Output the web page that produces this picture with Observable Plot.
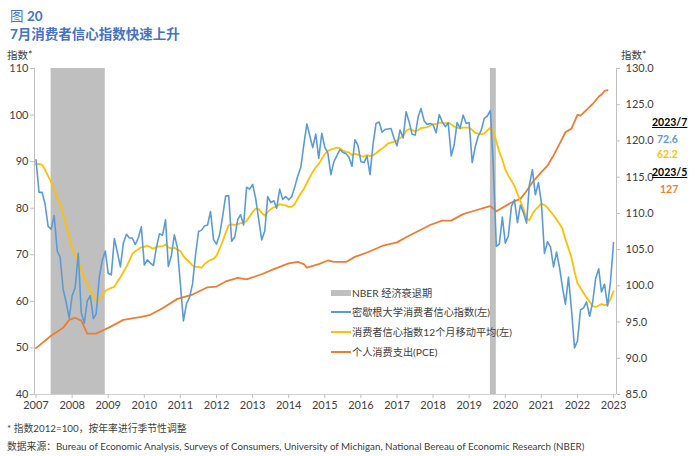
<!DOCTYPE html>
<html>
<head>
<meta charset="utf-8">
<script src="https://cdn.jsdelivr.net/npm/d3@7"></script>
<script src="https://cdn.jsdelivr.net/npm/@observablehq/plot@0.6"></script>
<style>
  body { margin: 0; background: #fff; }
  #wrap { position: relative; width: 700px; height: 456px; font-family: Lato, "Noto Sans CJK SC", sans-serif; color: #404040; overflow: hidden; }
  .abs { position: absolute; white-space: nowrap; }
  .leg { position: absolute; font-size: 10.2px; line-height: 12px; white-space: nowrap; color: #404040; }
  .sw { position: absolute; width: 20px; }
  .ann { position: absolute; font-size: 10.5px; font-weight: bold; white-space: nowrap; line-height: 12px; }
  #chart { position: absolute; left: 0; top: 0; }
</style>
</head>
<body>
<div id="wrap">
  <div id="chart"></div>
  <div class="abs" style="left:10px;top:5px;font-size:13.5px;color:#4472c4;"><span>图</span> <b>20</b></div>
  <div class="abs" style="left:10px;top:23px;font-size:13.5px;color:#4472c4;font-weight:bold;">7月消费者信心指数快速上升</div>
  <div class="abs" style="left:7px;top:47px;font-size:10.5px;">指数*</div>
  <div class="abs" style="left:621px;top:47px;font-size:10.5px;">指数*</div>

  <div class="ann" style="left:652px;top:116px;color:#000;text-decoration:underline;">2023/7</div>
  <div class="ann" style="left:657px;top:133px;color:#5b9bd5;" id="a1"></div>
  <div class="ann" style="left:657px;top:148px;color:#ffc000;" id="a2"></div>
  <div class="ann" style="left:652px;top:166px;color:#000;text-decoration:underline;">2023/5</div>
  <div class="ann" style="left:660px;top:183px;color:#ed7d31;" id="a3"></div>

  <div class="sw" style="left:331px;top:290px;height:6px;background:#bfbfbf;"></div>
  <div class="leg" style="left:352px;top:287px;">NBER 经济衰退期</div>
  <div class="sw" style="left:331px;top:311px;height:2px;background:#5b9bd5;"></div>
  <div class="leg" style="left:352px;top:306px;">密歇根大学消费者信心指数(左)</div>
  <div class="sw" style="left:331px;top:331px;height:2px;background:#ffc000;"></div>
  <div class="leg" style="left:352px;top:326px;">消费者信心指数12个月移动平均(左)</div>
  <div class="sw" style="left:331px;top:351px;height:2px;background:#ed7d31;"></div>
  <div class="leg" style="left:352px;top:346px;">个人消费支出(PCE)</div>

  <div class="abs" style="left:7px;top:421px;font-size:9.8px;">* 指数2012=100，按年率进行季节性调整</div>
  <div class="abs" style="left:7px;top:439px;font-size:9.8px;">数据来源：Bureau of Economic Analysis, Surveys of Consumers, University of Michigan, National Bereau of Economic Research (NBER)</div>
</div>
<script>
// Monthly data starting July 2007
const startYear = 2007, startMonth = 7;

// University of Michigan consumer sentiment (left axis)
const sentiment = [
  90.4, 83.4, 83.4, 80.9, 76.1, 75.5,
  78.4, 70.8, 69.5, 62.6, 59.8, 56.4, 61.2, 63.0, 70.3, 57.6, 55.3, 60.1,
  61.2, 56.3, 57.3, 65.1, 68.7, 70.8, 66.0, 65.7, 73.5, 70.6, 67.4, 72.5,
  74.4, 73.6, 73.6, 72.2, 73.6, 76.0, 67.8, 68.9, 68.2, 67.7, 71.6, 74.5,
  74.2, 77.5, 67.5, 69.8, 74.3, 71.5, 63.7, 55.8, 59.5, 60.8, 63.7, 69.9,
  75.0, 75.3, 76.2, 76.4, 79.3, 73.2, 72.3, 74.3, 78.3, 82.6, 82.7, 72.9,
  73.8, 77.6, 78.6, 76.4, 84.5, 84.1, 85.1, 82.1, 77.5, 73.2, 75.1, 82.5,
  81.2, 81.6, 80.0, 84.1, 81.9, 82.5, 81.8, 82.5, 84.6, 86.9, 88.8, 93.6,
  98.1, 95.4, 93.0, 95.9, 90.7, 96.1, 93.1, 91.9, 87.2, 90.0, 91.3, 92.6,
  92.0, 91.7, 91.0, 89.0, 94.7, 93.5, 90.0, 89.8, 91.2, 87.2, 93.8, 98.2,
  98.5, 96.3, 96.9, 97.0, 97.1, 95.0, 93.4, 96.8, 95.1, 100.7, 98.5, 95.9,
  95.7, 99.7, 101.4, 98.8, 98.0, 98.2, 97.9, 96.2, 100.1, 98.6, 97.5, 98.3,
  91.2, 93.8, 98.4, 97.2, 100.0, 98.2, 98.4, 89.8, 93.2, 95.5, 96.8, 99.3,
  99.8, 101.0, 89.1, 71.8, 72.3, 78.1, 72.5, 74.1, 80.4, 81.8, 76.9, 80.7,
  79.0, 76.8, 84.9, 88.3, 82.9, 85.5, 81.2, 70.3, 72.8, 71.7, 67.4, 70.6,
  67.2, 62.8, 59.4, 65.2, 58.4, 50.0, 51.5, 58.2, 58.6, 59.9, 56.8, 59.7,
  64.9, 67.0, 62.0, 63.7, 59.0, 64.4, 72.6
];

// 12-month moving average of sentiment (left axis)
const movingAvg = [
  89.4, 89.5, 89.3, 88.3, 86.9, 85.6,
  84.0, 82.3, 80.8, 78.7, 76.3, 73.9, 71.5, 69.8, 68.7, 66.8, 65.0, 63.8,
  62.3, 61.1, 60.1, 60.3, 61.0, 62.2, 62.6, 62.9, 63.1, 64.2, 65.2, 66.3,
  67.4, 68.8, 70.2, 70.8, 71.2, 71.6, 71.7, 72.0, 71.6, 71.3, 71.7, 71.8,
  71.8, 72.2, 71.6, 71.4, 71.5, 71.1, 70.8, 69.7, 69.0, 68.4, 67.7, 67.4,
  67.4, 67.2, 68.0, 68.5, 68.9, 69.1, 69.8, 71.3, 72.9, 74.7, 76.3, 76.5,
  76.4, 76.6, 76.8, 76.8, 77.3, 78.2, 79.2, 79.9, 79.8, 79.0, 78.4, 79.2,
  79.8, 80.2, 80.3, 80.9, 80.7, 80.6, 80.3, 80.3, 80.9, 82.1, 83.2, 84.1,
  85.5, 86.7, 87.8, 88.8, 89.5, 90.6, 91.6, 92.3, 92.6, 92.8, 93.0, 92.9,
  92.4, 92.1, 92.0, 91.4, 91.7, 91.5, 91.2, 91.1, 91.4, 91.2, 91.4, 91.8,
  92.4, 92.8, 93.3, 93.9, 94.1, 94.3, 94.5, 95.1, 95.4, 96.6, 97.0, 96.8,
  96.5, 96.8, 97.2, 97.3, 97.4, 97.7, 98.1, 98.0, 98.4, 98.3, 98.2, 98.4,
  98.0, 97.5, 97.3, 97.1, 97.3, 97.3, 97.3, 96.8, 96.2, 96.0, 95.9, 96.0,
  96.7, 97.3, 96.5, 94.4, 92.1, 90.4, 88.3, 87.0, 85.9, 84.8, 83.1, 81.5,
  79.8, 77.8, 77.4, 78.8, 79.7, 80.3, 81.0, 80.7, 80.1, 79.3, 78.5, 77.6,
  76.6, 75.5, 73.3, 71.4, 69.4, 66.4, 63.9, 62.9, 61.8, 60.8, 59.9, 59.0,
  58.8, 59.1, 59.4, 59.2, 59.3, 60.5, 62.2
];

// PCE index (right axis)
const pceMonths = [
  "2007-07","2007-12","2008-04","2008-06","2008-08","2008-10","2008-12","2009-03","2009-05","2009-08",
  "2009-12","2010-06","2010-09","2011-01","2011-06","2011-11","2012-04","2012-07","2012-10","2013-02",
  "2013-05","2013-10","2014-02","2014-07","2014-10","2014-12","2015-01","2015-05","2015-08","2015-10",
  "2016-02","2016-05","2016-09","2017-02","2017-07","2017-10","2018-06","2018-10","2019-01","2019-05",
  "2019-09","2020-01","2020-02","2020-04","2020-09","2020-12","2021-02","2021-04","2021-07","2021-09",
  "2021-11","2022-01","2022-03","2022-05","2022-07","2022-08","2022-11","2022-12","2023-02","2023-03",
  "2023-04","2023-05"
];
const pceValues = [
  91.4, 93.1, 94.2, 95.3, 95.6, 95.2, 93.4, 93.4, 93.8, 94.4,
  95.3, 95.7, 96.0, 96.9, 98.2, 98.8, 99.8, 99.9, 100.6, 101.1,
  100.9, 101.6, 102.3, 103.1, 103.3, 103.0, 102.5, 103.0, 103.5, 103.3,
  103.3, 104.0, 104.6, 105.5, 106.0, 106.7, 108.4, 109.0, 109.0, 109.9,
  110.4, 110.9, 111.0, 110.3, 111.5, 112.0, 113.1, 114.3, 115.7, 116.6,
  118.0, 119.6, 121.2, 121.7, 123.6, 123.5, 124.7, 125.1, 126.1, 126.4,
  126.9, 127.0
];

// NBER recessions
const recStart = ["2007-12", "2020-02"];
const recEnd = ["2009-06", "2020-04"];

const leftTicks = [40, 50, 60, 70, 80, 90, 100, 110];
const rightTicks = [85, 90, 95, 100, 105, 110, 115, 120, 125, 130];
const yearLabels = [2007, 2008, 2009, 2010, 2011, 2012, 2013, 2014, 2015, 2016, 2017, 2018, 2019, 2020, 2021, 2022, 2023];

const latest = { sentiment: "72.6", avg: "62.2", pce: "127" };

// helpers
const md = i => new Date(Date.UTC(startYear, startMonth - 1 + i, 1));
const pd = s => { const [y, m] = s.split("-").map(Number); return new Date(Date.UTC(y, m - 1, 1)); };
// right-axis value -> left-axis scale
const toL = r => 40 + (r - 85) * 70 / 45;
const toR = l => (l - 40) * 45 / 70 + 85;

const blueData = sentiment.map((v, i) => ({ date: md(i), v }));
const yellowData = movingAvg.map((v, i) => ({ date: md(i), v }));
const orangeData = pceMonths.map((m, i) => ({ date: pd(m), v: toL(pceValues[i]) }));
const recData = recStart.map((s, i) => ({ x1: pd(s), x2: pd(recEnd[i]) }));
const xTicks = yearLabels.map(y => new Date(Date.UTC(y, 6, 1)));

const x0 = new Date(Date.UTC(2007, 5, 16));
const x1 = new Date(Date.UTC(2023, 6, 31));

const chart = Plot.plot({
  width: 700,
  height: 420,
  marginLeft: 34,
  marginRight: 84,
  marginTop: 68,
  marginBottom: 26,
  style: { fontFamily: 'Lato, "Noto Sans CJK SC", sans-serif', fontSize: "11px", color: "#404040", background: "transparent" },
  x: { type: "utc", domain: [x0, x1] },
  y: { domain: [40, 110] },
  marks: [
    Plot.rect(recData, { x1: "x1", x2: "x2", fill: "#bfbfbf" }),
    Plot.ruleX([x0], { stroke: "#bfbfbf" }),
    Plot.ruleX([x1], { stroke: "#bfbfbf" }),
    Plot.ruleY([40], { stroke: "#d0d0d0" }),
    Plot.line(orangeData, { x: "date", y: "v", stroke: "#ed7d31", strokeWidth: 1.8 }),
    Plot.line(yellowData, { x: "date", y: "v", stroke: "#ffc000", strokeWidth: 1.8 }),
    Plot.line(blueData, { x: "date", y: "v", stroke: "#5b9bd5", strokeWidth: 1.6 }),
    Plot.axisY(leftTicks, { anchor: "left", tickSize: 4, tickPadding: 2, stroke: "#bfbfbf", label: null }),
    Plot.axisY(rightTicks.map(toL), { anchor: "right", tickSize: 3, tickPadding: 6, stroke: "#bfbfbf", tickFormat: d => toR(d).toFixed(1), label: null }),
    Plot.axisX(xTicks, { tickSize: 4, tickPadding: 3, stroke: "#bfbfbf", tickFormat: d => String(d.getUTCFullYear()), label: null })
  ]
});
document.getElementById("chart").appendChild(chart);
document.getElementById("a1").textContent = latest.sentiment;
document.getElementById("a2").textContent = latest.avg;
document.getElementById("a3").textContent = latest.pce;
</script>
</body>
</html>
